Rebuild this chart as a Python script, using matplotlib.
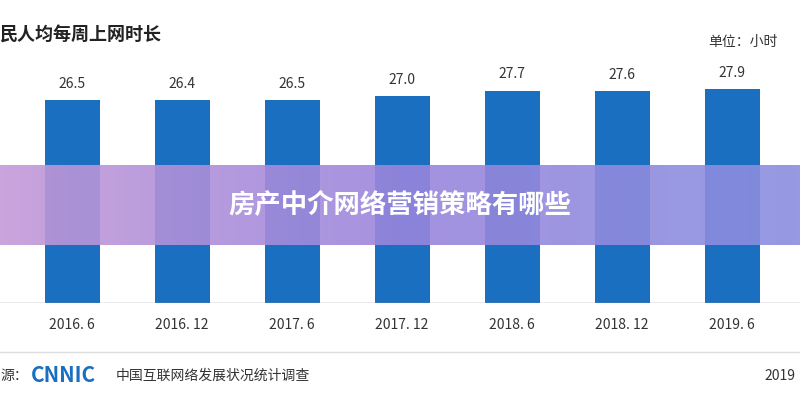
import matplotlib.pyplot as plt
import numpy as np
from matplotlib.colors import LinearSegmentedColormap

plt.rcParams['font.family'] = ['Noto Sans CJK SC', 'DejaVu Sans']

periods = ['2016. 6', '2016. 12', '2017. 6', '2017. 12', '2018. 6', '2018. 12', '2019. 6']
hours = [26.5, 26.4, 26.5, 27.0, 27.7, 27.6, 27.9]

fig = plt.figure(figsize=(8, 4), dpi=100)
fig.patch.set_facecolor('white')
ax = fig.add_axes([0, 0.2425, 1, 0.7575])
x = np.arange(len(periods))
ax.bar(x, hours, width=0.5, color='#1a6fc0')
for xi, v in zip(x, hours):
    ax.text(xi, v + 1.2, f'{v:.1f}', ha='center', va='bottom', fontsize=10, color='#333333')
ax.set_xlim(-0.655, 6.618)
ax.set_ylim(0, 39.5)
ax.axis('off')
ax.axhline(0, color='#999999', lw=1)

for xi, p in zip(x, periods):
    fig.text((xi + 0.655) / 7.273, 1 - 325 / 400, p, ha='center', va='center', fontsize=10, color='#333333')

fig.text(0.0, 1 - 35 / 400, '民人均每周上网时长', fontsize=13, fontweight='bold', color='#222222', va='center')
fig.text(0.885, 1 - 42 / 400, '单位：小时', fontsize=10, color='#333333', va='center')

# footer
fig.add_artist(plt.Line2D([0, 1], [1 - 352 / 400] * 2, color='#dddddd', lw=1))
fig.text(0.0, 1 - 376 / 400, '源：', fontsize=10, color='#333333', va='center')
fig.text(0.038, 1 - 376 / 400, 'CNNIC', fontsize=15, fontweight='bold', color='#1a6fc0', va='center')
fig.text(0.145, 1 - 376 / 400, '中国互联网络发展状况统计调查', fontsize=10, color='#333333', va='center')
fig.text(0.955, 1 - 376 / 400, '2019', fontsize=10, color='#333333', va='center')

# banner
bax = fig.add_axes([0, 1 - 245 / 400, 1, 80 / 400])
cmap = LinearSegmentedColormap.from_list('b', ['#c49ad8', '#9a86dd', '#8a8fe0'])
bax.imshow(np.linspace(0, 1, 256).reshape(1, -1), aspect='auto', cmap=cmap, alpha=0.9, extent=[0, 1, 0, 1])
bax.axis('off')
bax.text(0.5, 0.5, '房产中介网络营销策略有哪些', ha='center', va='center', fontsize=19,
         fontweight='bold', color='white', transform=bax.transAxes)

fig.savefig('out.png', dpi=100)
